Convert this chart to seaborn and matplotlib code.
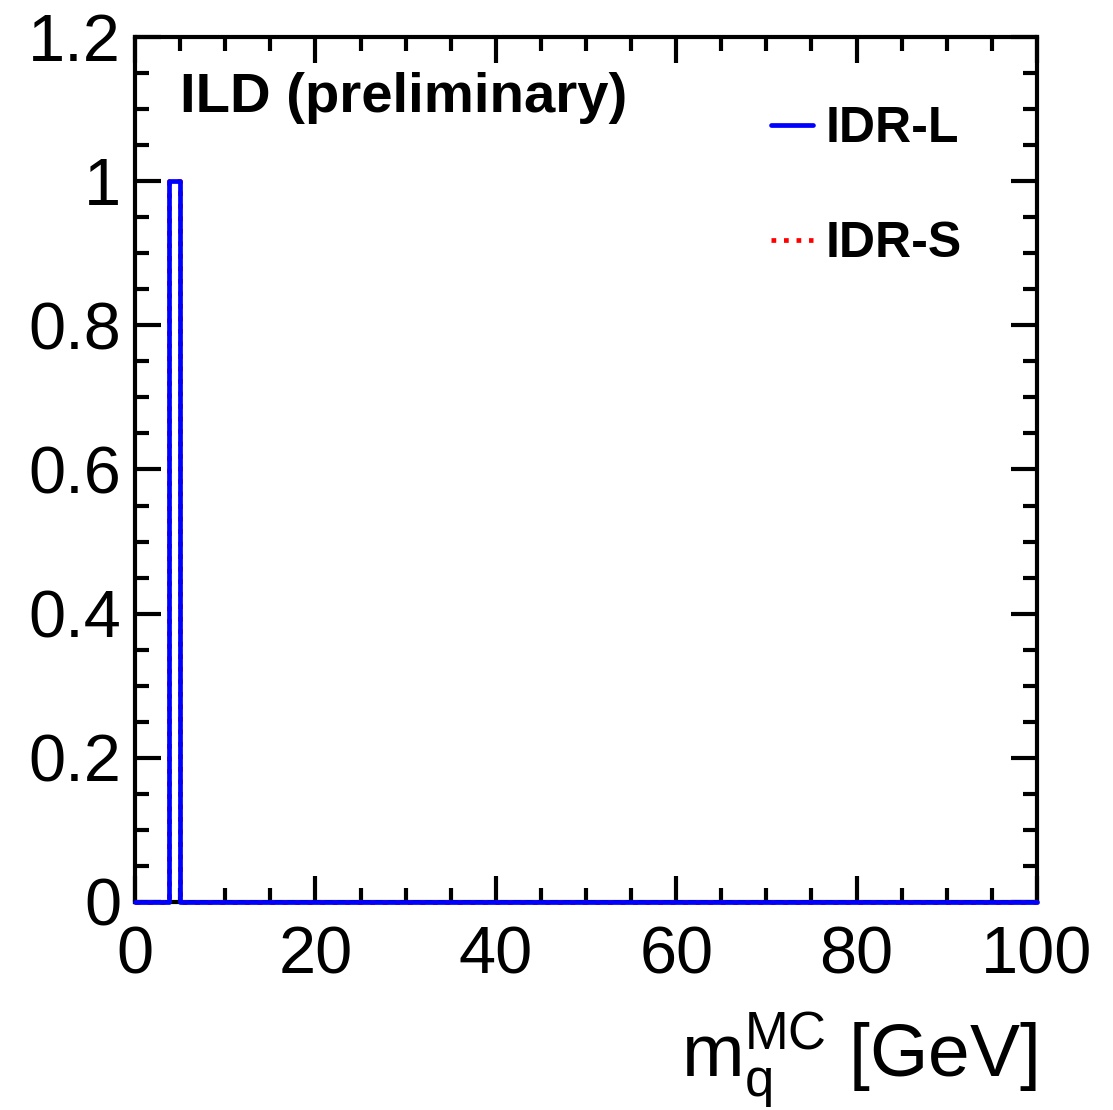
import numpy as np
import pandas as pd
import seaborn as sns
import matplotlib.pyplot as plt
from matplotlib.lines import Line2D

# === data ===
# true quark mass per event (all events sit in one bin), normalised to max = 1
mq_idr_l = [4.4]
mq_idr_s = [4.4]
n_bins = 80
x_range = (0, 100)

df = pd.DataFrame({
    "mq": mq_idr_l + mq_idr_s,
    "model": ["IDR-L"] * len(mq_idr_l) + ["IDR-S"] * len(mq_idr_s),
})

# === style ===
sns.set_theme(style="ticks")
plt.rcParams['font.family'] = ['Liberation Sans', 'DejaVu Sans']
plt.rcParams['mathtext.fontset'] = 'custom'
plt.rcParams['mathtext.rm'] = 'Liberation Sans'
plt.rcParams['mathtext.it'] = 'Liberation Sans'
for k in ["text.color", "axes.labelcolor", "xtick.color", "ytick.color", "axes.edgecolor"]:
    plt.rcParams[k] = "black"

fig = plt.figure(figsize=(11.13, 11.10), dpi=100)
ax = fig.add_axes([0.1213, 0.1874, 0.8104, 0.7793])

# red dotted first, blue solid on top
sns.histplot(data=df[df.model == "IDR-S"], x="mq", bins=n_bins, binrange=x_range,
             stat="probability", element="step", fill=False, color="#ff0000",
             linestyle=":", ax=ax)
sns.histplot(data=df[df.model == "IDR-L"], x="mq", bins=n_bins, binrange=x_range,
             stat="probability", element="step", fill=False, color="#0000ff",
             ax=ax)
for i, ln in enumerate(ax.lines):
    ln.set_linewidth(3.4)
    ln.set_clip_on(False)
    ln.set_zorder(5 + i)

ax.set_xlim(*x_range)
ax.set_ylim(0, 1.2)
ax.set_xticks(np.arange(0, 101, 20))
ax.set_xticks(np.arange(0, 101, 5), minor=True)
ax.set_yticks(np.arange(0, 1.21, 0.2))
ax.set_yticks(np.arange(0, 1.21, 0.05), minor=True)
ax.set_xticklabels(["0", "20", "40", "60", "80", "100"])
ax.set_yticklabels(["0", "0.2", "0.4", "0.6", "0.8", "1", "1.2"])

for s in ax.spines.values():
    s.set_linewidth(3)
ax.tick_params(which="both", direction="in", top=True, right=True, width=3)
ax.tick_params(which="major", length=19, labelsize=48, pad=10)
ax.tick_params(which="minor", length=10)
ax.tick_params(axis="x", which="major", pad=17)

ax.set_ylabel("")
ax.set_xlabel(r"m$_{\mathrm{q}}^{\mathrm{MC}}$ [GeV]", fontsize=54, loc="right", labelpad=16)

ax.text(0.05, 0.96, "ILD (preliminary)", transform=ax.transAxes, fontsize=40.5,
        fontweight="bold", va="top", ha="left")

h = [Line2D([], [], color="#0000ff", lw=3.4), Line2D([], [], color="#ff0000", lw=3.4, ls=":")]
ax.legend(h, ["IDR-L", "IDR-S"], loc="upper left", bbox_to_anchor=(0.705, 0.92),
          frameon=False, prop={"size": 36, "weight": "bold"}, handlelength=0.85,
          handletextpad=0.25, labelspacing=1.38, borderaxespad=0, borderpad=0)

fig.savefig("out.png", dpi=100)
